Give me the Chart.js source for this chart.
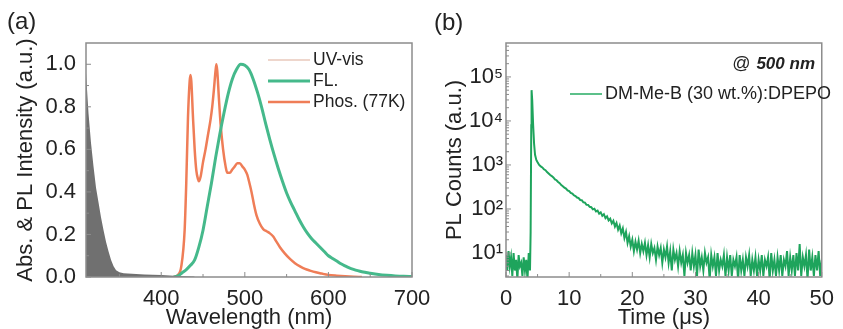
<!DOCTYPE html>
<html>
<head>
<meta charset="utf-8">
<script src="https://cdn.jsdelivr.net/npm/chart.js@4.4.1/dist/chart.umd.min.js"></script>
<style>
  body { margin: 0; background: #fff; }
  #wrap { position: relative; width: 843px; height: 329px; overflow: hidden; font-family: "Liberation Sans", Arial, sans-serif; }
  canvas { position: absolute; top: 0; }
  .lbl { position: absolute; font-size: 24px; color: #222; }
</style>
</head>
<body>
<div id="wrap">
  <canvas id="chartA" width="440" height="329" style="left:0"></canvas>
  <canvas id="chartB" width="423" height="329" style="left:420px"></canvas>
  <div class="lbl" style="left:7px;top:7px">(a)</div>
  <div class="lbl" style="left:434px;top:8px">(b)</div>
</div>
<script>
// ---- panel (a): absorption / emission spectra ----
var uvWl  = [310, 313, 316, 319, 322, 325, 328, 331, 334, 337, 340, 343, 346, 350, 355, 360, 370, 380, 390, 400, 410, 420, 430, 440];
var uvAbs = [0.96, 0.77, 0.63, 0.52, 0.42, 0.35, 0.28, 0.22, 0.165, 0.12, 0.08, 0.05, 0.032, 0.022, 0.018, 0.016, 0.014, 0.012, 0.01, 0.009, 0.007, 0.005, 0.003, 0.002];

var flWl = [415, 420, 425, 430, 435, 440, 445, 450, 455, 460, 465, 470, 475, 480, 485, 490, 495, 500, 505, 510, 515, 520, 525, 530, 535, 540, 545, 550, 555, 560, 565, 570, 575, 580, 585, 590, 595, 600, 605, 610, 615, 620, 625, 630, 635, 640, 650, 660, 670, 680, 690, 700];
var flInt = [0, 0.005, 0.02, 0.035, 0.055, 0.08, 0.14, 0.22, 0.33, 0.44, 0.56, 0.67, 0.77, 0.86, 0.93, 0.975, 1.0, 0.995, 0.975, 0.93, 0.87, 0.8, 0.72, 0.645, 0.575, 0.51, 0.45, 0.395, 0.35, 0.31, 0.27, 0.235, 0.205, 0.18, 0.16, 0.14, 0.12, 0.1, 0.087, 0.075, 0.062, 0.052, 0.043, 0.036, 0.03, 0.025, 0.018, 0.012, 0.008, 0.005, 0.003, 0.002];

var phWl  = [415, 420, 424, 428, 430, 432, 434, 435, 436, 438, 440, 442, 444, 445, 447, 450, 453, 456, 459, 461, 463, 465, 466, 467, 469, 471, 474, 477, 479, 482, 485, 488, 491, 494, 497, 500, 503, 505, 508, 511, 514, 518, 522, 526, 530, 534, 538, 542, 548, 554, 560, 566, 572, 578, 585, 592, 600, 610, 620, 630, 640];
var phInt = [0, 0.01, 0.05, 0.22, 0.45, 0.75, 0.92, 0.95, 0.92, 0.75, 0.6, 0.5, 0.46, 0.45, 0.47, 0.54, 0.6, 0.67, 0.74, 0.8, 0.88, 0.97, 1.0, 0.97, 0.84, 0.72, 0.6, 0.52, 0.49, 0.49, 0.505, 0.52, 0.535, 0.535, 0.52, 0.505, 0.48, 0.45, 0.4, 0.34, 0.29, 0.25, 0.225, 0.215, 0.205, 0.19, 0.165, 0.14, 0.11, 0.085, 0.065, 0.05, 0.038, 0.03, 0.022, 0.016, 0.01, 0.006, 0.003, 0.001, 0];

var wlTicks  = [400, 500, 600, 700];
var wlMinor  = [350, 450, 550, 650];
var absTicks = [0, 0.2, 0.4, 0.6, 0.8, 1.0];
var absMinor = [0.1, 0.3, 0.5, 0.7, 0.9];

// ---- panel (b): transient PL decay @ 500 nm ----
var decayT = [0, 0.2, 0.4, 0.6, 0.8, 1.0, 1.2, 1.4, 1.6, 1.8, 2.0, 2.2, 2.4, 2.6, 2.8, 3.0, 3.2, 3.4, 3.6, 3.8, 3.9, 4.0, 4.05, 4.15, 4.3, 4.45, 4.6, 4.8,
  5.0, 5.25, 5.5, 5.75, 6.0, 6.25, 6.5, 6.75, 7.0, 7.25, 7.5, 7.75, 8.0, 8.25, 8.5, 8.75, 9.0, 9.25, 9.5, 9.75,
  10.0, 10.25, 10.5, 10.75, 11.0, 11.25, 11.5, 11.75, 12.0, 12.25, 12.5, 12.75, 13.0, 13.25, 13.5, 13.75, 14.0, 14.25, 14.5, 14.75,
  15.0, 15.25, 15.5, 15.75, 16.0, 16.25, 16.5, 16.75, 17.0, 17.25, 17.5, 17.75, 18.0, 18.25, 18.5, 18.75, 19.0, 19.25, 19.5, 19.75,
  20.0, 20.25, 20.5, 20.75, 21.0, 21.25, 21.5, 21.75, 22.0, 22.25, 22.5, 22.75, 23.0, 23.25, 23.5, 23.75, 24.0, 24.25, 24.5, 24.75,
  25.0, 25.25, 25.5, 25.75, 26.0, 26.25, 26.5, 26.75, 27.0, 27.25, 27.5, 27.75, 28.0, 28.25, 28.5, 28.75, 29.0, 29.25, 29.5, 29.75,
  30.0, 30.25, 30.5, 30.75, 31.0, 31.25, 31.5, 31.75, 32.0, 32.25, 32.5, 32.75, 33.0, 33.25, 33.5, 33.75, 34.0, 34.25, 34.5, 34.75,
  35.0, 35.25, 35.5, 35.75, 36.0, 36.25, 36.5, 36.75, 37.0, 37.25, 37.5, 37.75, 38.0, 38.25, 38.5, 38.75, 39.0, 39.25, 39.5, 39.75,
  40.0, 40.25, 40.5, 40.75, 41.0, 41.25, 41.5, 41.75, 42.0, 42.25, 42.5, 42.75, 43.0, 43.25, 43.5, 43.75, 44.0, 44.25, 44.5, 44.75,
  45.0, 45.25, 45.5, 45.75, 46.0, 46.25, 46.5, 46.75, 47.0, 47.25, 47.5, 47.75, 48.0, 48.25, 48.5, 48.75, 49.0, 49.25, 49.5, 49.75, 50.0];
var decayCounts = [9, 4, 11, 5, 8, 3, 10, 4, 7, 2.5, 9, 5, 6, 3, 8, 4, 7, 2.5, 10, 4, 30, 8000, 50000, 30000, 8000, 3000, 1700, 1300,
  1150, 1000, 930, 880, 800, 760, 690, 640, 590, 560, 520, 470, 450, 410, 385, 350, 330, 305, 290, 265,
  255, 232, 225, 205, 196, 182, 176, 160, 158, 142, 140, 125, 124, 112, 110, 98, 101, 88, 92, 78,
  84, 70, 76, 62, 68, 55, 60, 47, 54, 40, 48, 34, 42, 28, 36, 22, 30, 17, 24, 14,
  20, 11, 18, 12, 19, 10, 16, 11, 17, 9, 15, 8, 16, 10, 13, 7, 14, 9, 13, 6,
  12, 8, 14, 6, 11, 4, 12, 7, 10, 5, 11, 6, 9, 3, 10, 6, 9, 4, 10, 5,
  9, 3, 12, 5, 8, 4, 10, 6, 8, 2.5, 9, 5, 8, 3, 10, 4, 7, 5, 9, 3,
  8, 4, 9, 3, 7, 5, 8, 2.5, 9, 4, 7, 3, 8, 5, 9, 3, 7, 4, 8, 3,
  7, 4, 9, 3, 7, 5, 8, 2.5, 10, 4, 7, 3, 8, 4, 9, 3, 7, 5, 11, 3,
  8, 4, 9, 3, 10, 4, 16, 3, 8, 5, 9, 2.5, 12, 4, 8, 3, 9, 4, 11, 3, 7];

var timeTicks  = [0, 10, 20, 30, 40, 50];
var timeMinor  = [5, 15, 25, 35, 45];
var countTicks = [10, 100, 1000, 10000, 100000];

var FONT = 'Liberation Sans, DejaVu Sans, Arial, sans-serif';
var TXT = '#222';
var FRAME = '#8c8c8c';
var sup = { 1: '\u00b9', 2: '\u00b2', 3: '\u00b3', 4: '\u2074', 5: '\u2075' };

function pairs(xs, ys) { return xs.map(function (x, i) { return { x: x, y: ys[i] }; }); }

// box frame + inward tick marks
var framePlugin = {
  id: 'frame',
  afterDatasetsDraw: function (chart, args, opts) {
    var ctx = chart.ctx, a = chart.chartArea;
    var xs = chart.scales.x, ys = chart.scales.y;
    ctx.save();
    ctx.strokeStyle = FRAME;
    ctx.lineWidth = 1.5;
    ctx.strokeRect(a.left, a.top, a.right - a.left, a.bottom - a.top);
    ctx.lineWidth = 1;
    ctx.beginPath();
    opts.xMajor.forEach(function (v) { var p = xs.getPixelForValue(v); ctx.moveTo(p, a.bottom); ctx.lineTo(p, a.bottom - 5); });
    opts.xMinor.forEach(function (v) { var p = xs.getPixelForValue(v); ctx.moveTo(p, a.bottom); ctx.lineTo(p, a.bottom - 3); });
    opts.yMajor.forEach(function (v) { var p = ys.getPixelForValue(v); ctx.moveTo(a.left, p); ctx.lineTo(a.left + 5, p); });
    opts.yMinor.forEach(function (v) { var p = ys.getPixelForValue(v); if (p > a.top && p < a.bottom) { ctx.moveTo(a.left, p); ctx.lineTo(a.left + 3, p); } });
    ctx.stroke();
    ctx.restore();
  }
};

// legend drawn inside the plot
var insideLegend = {
  id: 'insideLegend',
  afterDraw: function (chart, args, opts) {
    var ctx = chart.ctx;
    ctx.save();
    ctx.font = opts.fontSize + 'px ' + FONT;
    ctx.textBaseline = 'middle';
    ctx.fillStyle = TXT;
    if (opts.note) {
      ctx.textAlign = 'right';
      ctx.font = 'italic bold ' + (opts.fontSize - 1) + 'px ' + FONT;
      var w = ctx.measureText(opts.note.em).width;
      ctx.fillText(opts.note.em, opts.note.x, opts.note.y);
      ctx.font = opts.fontSize + 'px ' + FONT;
      ctx.fillText(opts.note.plain, opts.note.x - w - 6, opts.note.y);
    }
    ctx.textAlign = 'left';
    ctx.font = opts.fontSize + 'px ' + FONT;
    chart.data.datasets.forEach(function (ds, i) {
      var y = opts.y + i * opts.gap;
      ctx.strokeStyle = ds.legendColor || ds.borderColor;
      ctx.lineWidth = ds.legendWidth || ds.borderWidth;
      ctx.beginPath();
      ctx.moveTo(opts.x, y);
      ctx.lineTo(opts.x + opts.len, y);
      ctx.stroke();
      ctx.fillText(ds.label, opts.x + opts.len + 3, y);
    });
    ctx.restore();
  }
};

function fixY(w) { return function (s) { s.width = w; }; }
function fixX(h) { return function (s) { s.height = h; }; }
function setTicks(vals) { return function (s) { s.ticks = vals.map(function (v) { return { value: v }; }); }; }

new Chart(document.getElementById('chartA'), {
  type: 'line',
  data: {
    datasets: [{
      label: 'UV-vis',
      data: pairs(uvWl, uvAbs),
      borderColor: '#707070',
      borderWidth: 0,
      backgroundColor: '#707070',
      fill: 'origin',
      tension: 0,
      cubicInterpolationMode: 'default',
      legendColor: '#e8c9bb',
      legendWidth: 1.5
    }, {
      label: 'FL.',
      data: pairs(flWl, flInt),
      borderColor: '#45b98b',
      borderWidth: 3,
      fill: false
    }, {
      label: 'Phos. (77K)',
      data: pairs(phWl, phInt),
      borderColor: '#ef7d57',
      borderWidth: 2.5,
      fill: false
    }]
  },
  plugins: [framePlugin, insideLegend],
  options: {
    responsive: false,
    animation: false,
    layout: { padding: { top: 43, right: 28, left: 0, bottom: 0 } },
    elements: { point: { radius: 0 }, line: { cubicInterpolationMode: 'monotone' } },
    plugins: {
      legend: { display: false },
      tooltip: { enabled: false },
      frame: { xMajor: wlTicks, xMinor: wlMinor, yMajor: absTicks, yMinor: absMinor },
      insideLegend: { x: 268, y: 60, gap: 21, len: 42, fontSize: 17.5 }
    },
    scales: {
      x: {
        type: 'linear', min: 310, max: 700,
        afterFit: fixX(52),
        afterBuildTicks: setTicks(wlTicks),
        grid: { display: false, drawTicks: false },
        border: { display: false },
        ticks: { color: TXT, font: { family: FONT, size: 22 }, padding: 9, maxRotation: 0 },
        title: { display: true, text: 'Wavelength (nm)', color: TXT, font: { family: FONT, size: 22, lineHeight: 1 }, padding: { top: 0, bottom: 0 } }
      },
      y: {
        min: 0, max: 1.1,
        afterFit: fixY(86),
        afterBuildTicks: setTicks(absTicks),
        grid: { display: false, drawTicks: false },
        border: { display: false },
        ticks: { color: TXT, font: { family: FONT, size: 22 }, padding: 10, callback: function (v) { return v.toFixed(1); } },
        title: { display: true, text: 'Abs. & PL Intensity (a.u.)', color: TXT, font: { family: FONT, size: 22, lineHeight: 1 }, padding: { top: 15, bottom: 0 } }
      }
    }
  }
});

var countMinor = [];
countTicks.concat([1]).forEach(function (d) { for (var k = 2; k <= 9; k++) countMinor.push(d * k); });

new Chart(document.getElementById('chartB'), {
  type: 'line',
  data: {
    datasets: [{
      label: 'DM-Me-B (30 wt.%):DPEPO',
      data: pairs(decayT, decayCounts),
      borderColor: '#1ea45c',
      borderWidth: 2,
      fill: false,
      legendColor: '#5cc08a'
    }]
  },
  plugins: [framePlugin, insideLegend],
  options: {
    responsive: false,
    animation: false,
    layout: { padding: { top: 43, right: 11, left: 0, bottom: 0 } },
    elements: { point: { radius: 0 }, line: { tension: 0 } },
    plugins: {
      legend: { display: false },
      tooltip: { enabled: false },
      frame: { xMajor: timeTicks, xMinor: timeMinor, yMajor: countTicks, yMinor: countMinor },
      insideLegend: { x: 150, y: 94, gap: 0, len: 32, fontSize: 18, note: { plain: '@', em: '500 nm', x: 395, y: 64 } }
    },
    scales: {
      x: {
        type: 'linear', min: 0, max: 50,
        afterFit: fixX(52),
        afterBuildTicks: setTicks(timeTicks),
        grid: { display: false, drawTicks: false },
        border: { display: false },
        ticks: { color: TXT, font: { family: FONT, size: 22 }, padding: 9, maxRotation: 0 },
        title: { display: true, text: 'Time (\u03bcs)', color: TXT, font: { family: FONT, size: 22, lineHeight: 1 }, padding: { top: 0, bottom: 0 } }
      },
      y: {
        type: 'logarithmic', min: 2.85, max: 590000,
        afterFit: fixY(86),
        afterBuildTicks: setTicks(countTicks),
        grid: { display: false, drawTicks: false },
        border: { display: false },
        ticks: { color: TXT, font: { family: FONT, size: 22 }, padding: 3, callback: function (v) { return '10' + sup[Math.round(Math.log10(v))]; } },
        title: { display: true, text: 'PL Counts (a.u.)', color: TXT, font: { family: FONT, size: 22, lineHeight: 1 }, padding: { top: 24, bottom: 0 } }
      }
    }
  }
});
</script>
</body>
</html>
